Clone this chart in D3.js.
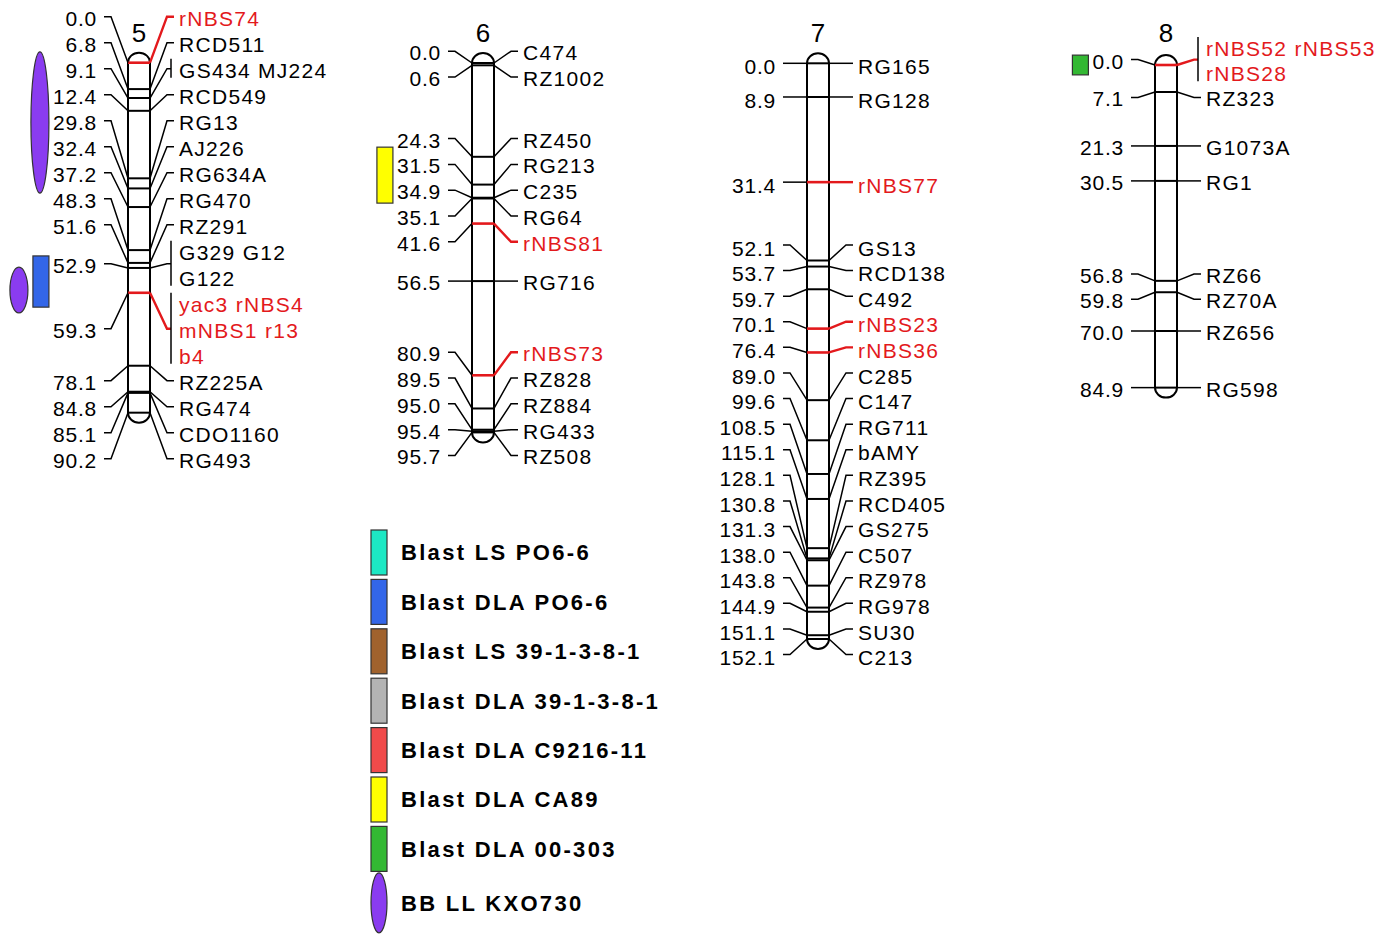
<!DOCTYPE html>
<html>
<head>
<meta charset="utf-8">
<script src="https://cdn.jsdelivr.net/npm/d3@7"></script>
<style>
  body { margin: 0; background: #fff; }
  svg { display: block; }
  text { font-family: "Liberation Sans", Arial, sans-serif; }
</style>
</head>
<body>
<script>
const chromNames = ['5', '6', '7', '8']

const chr5Pos = [0.0, 6.8, 9.1, 12.4, 29.8, 32.4, 37.2, 48.3, 51.6, 52.9, 59.3, 78.1, 84.8, 85.1, 90.2]
const chr5Names = [['rNBS74'], ['RCD511'], ['GS434', 'MJ224'], ['RCD549'], ['RG13'], ['AJ226'], ['RG634A'],
  ['RG470'], ['RZ291'], ['G329', 'G12', 'G122'], ['yac3', 'rNBS4', 'mNBS1', 'r13', 'b4'], ['RZ225A'],
  ['RG474'], ['CDO1160'], ['RG493']]

const chr6Pos = [0.0, 0.6, 24.3, 31.5, 34.9, 35.1, 41.6, 56.5, 80.9, 89.5, 95.0, 95.4, 95.7]
const chr6Names = [['C474'], ['RZ1002'], ['RZ450'], ['RG213'], ['C235'], ['RG64'], ['rNBS81'], ['RG716'],
  ['rNBS73'], ['RZ828'], ['RZ884'], ['RG433'], ['RZ508']]

const chr7Pos = [0.0, 8.9, 31.4, 52.1, 53.7, 59.7, 70.1, 76.4, 89.0, 99.6, 108.5, 115.1, 128.1, 130.8, 131.3,
  138.0, 143.8, 144.9, 151.1, 152.1]
const chr7Names = [['RG165'], ['RG128'], ['rNBS77'], ['GS13'], ['RCD138'], ['C492'], ['rNBS23'], ['rNBS36'],
  ['C285'], ['C147'], ['RG711'], ['bAMY'], ['RZ395'], ['RCD405'], ['GS275'], ['C507'], ['RZ978'], ['RG978'],
  ['SU30'], ['C213']]

const chr8Pos = [0.0, 7.1, 21.3, 30.5, 56.8, 59.8, 70.0, 84.9]
const chr8Names = [['rNBS52', 'rNBS53', 'rNBS28'], ['RZ323'], ['G1073A'], ['RG1'], ['RZ66'], ['RZ70A'],
  ['RZ656'], ['RG598']]

const redMarkers = ['rNBS74', 'yac3', 'rNBS4', 'mNBS1', 'r13', 'b4', 'rNBS81', 'rNBS73', 'rNBS77',
  'rNBS23', 'rNBS36', 'rNBS52', 'rNBS53', 'rNBS28']

// QTL intervals (cM)
const qtlChrom = ['5', '5', '5', '6', '8']
const qtlStart = [-2.8, 49.8, 52.7, 21.8, -2.6]
const qtlEnd = [33.6, 63.0, 64.5, 36.3, 2.6]
const qtlTrait = ['BB LL KXO730', 'Blast DLA PO6-6', 'BB LL KXO730', 'Blast DLA CA89', 'Blast DLA 00-303']
const qtlLane = [0, 0, 1, 0, 0]

const legendLabels = ['Blast LS PO6-6', 'Blast DLA PO6-6', 'Blast LS 39-1-3-8-1', 'Blast DLA 39-1-3-8-1',
  'Blast DLA C9216-11', 'Blast DLA CA89', 'Blast DLA 00-303', 'BB LL KXO730']
const legendColors = ['#1de8c4', '#3366e8', '#a0622d', '#b3b3b3', '#f04a4a', '#ffff00', '#33b833', '#8a3cf0']

// ---- layout ----
const W = 1376, H = 934
const RED = '#e3191c'
const layout = {
  '5': { cx: 139, y0: 62.7, k: 3.88, lh: 26, ty: 1.5 },
  '6': { cx: 483, y0: 63, k: 3.86, lh: 25.8, ty: 1.5 },
  '7': { cx: 818, y0: 63.3, k: 3.785, lh: 25.6, ty: 3 },
  '8': { cx: 1166, y0: 65, k: 3.8, lh: 25.2, ty: 1.5 }
}
const chroms = [
  { name: '5', pos: chr5Pos, names: chr5Names },
  { name: '6', pos: chr6Pos, names: chr6Names },
  { name: '7', pos: chr7Pos, names: chr7Names },
  { name: '8', pos: chr8Pos, names: chr8Names }
]
const redSet = new Set(redMarkers)
const color = d3.scaleOrdinal().domain(legendLabels).range(legendColors)

const svg = d3.select('body').append('svg')
  .attr('width', W)
  .attr('height', H)

function chunk (arr, n) {
  let out = []
  for (let i = 0; i < arr.length; i += n) out.push(arr.slice(i, i + n).join(' '))
  return out
}

// spread labels so they don't overlap; merged blocks are centred on the span of their targets
function spread (items, lh) {
  items.forEach(it => { it.h = it.lines.length * lh })
  let blocks = items.map(it => [it])
  const place = b => {
    let acc = 0
    b.forEach(it => { it.off = acc + it.h / 2; acc += it.h })
    const f = b[0], l = b[b.length - 1]
    const excess = (l.off - f.off) - (l.d - f.d)
    const top = f.d - f.off - excess / 2
    b.forEach(it => { it.ly = top + it.off })
    b.top = top
    b.bottom = top + acc
  }
  blocks.forEach(place)
  let merged = true
  while (merged) {
    merged = false
    for (let i = 0; i < blocks.length - 1; i++) {
      if (blocks[i].bottom > blocks[i + 1].top + 0.01) {
        const nb = blocks[i].concat(blocks[i + 1])
        place(nb)
        blocks.splice(i, 2, nb)
        merged = true
        break
      }
    }
  }
}

chroms.forEach(c => {
  const L = layout[c.name]
  const maxPos = d3.max(c.pos)
  const y = d3.scaleLinear().domain([0, maxPos]).range([L.y0, L.y0 + L.k * maxPos])
  const x0 = L.cx - 11, x1 = L.cx + 11

  const items = c.pos.map((p, i) => ({
    pos: p,
    names: c.names[i],
    d: y(p),
    lines: chunk(c.names[i], 2),
    red: redSet.has(c.names[i][0])
  }))
  spread(items, L.lh)

  const g = svg.append('g')

  // title
  g.append('text')
    .attr('x', L.cx)
    .attr('y', 42)
    .attr('text-anchor', 'middle')
    .attr('font-size', 26)
    .text(c.name)

  // bar
  const yt = y(0), yb = y(maxPos)
  g.append('path')
    .attr('d', `M${x0},${yt} L${x0},${yb} A11 10 0 0 0 ${x1},${yb} L${x1},${yt} A11 10 0 0 0 ${x0},${yt} Z`)
    .attr('fill', '#fff')
    .attr('stroke', '#000')
    .attr('stroke-width', 2)

  // marker lines across the bar
  g.selectAll('line.mk')
    .data(items)
    .join('line')
    .attr('class', 'mk')
    .attr('x1', x0).attr('x2', x1)
    .attr('y1', d => d.d).attr('y2', d => d.d)
    .attr('stroke', d => d.red ? RED : '#000')
    .attr('stroke-width', d => d.red ? 2.6 : 2)

  // left connectors
  g.selectAll('path.lc')
    .data(items)
    .join('path')
    .attr('class', 'lc')
    .attr('d', d => `M${x0 - 24},${d.ly} L${x0 - 17},${d.ly} L${x0},${d.d}`)
    .attr('fill', 'none')
    .attr('stroke', '#000')
    .attr('stroke-width', 1.5)

  // right connectors
  g.selectAll('path.rc')
    .data(items)
    .join('path')
    .attr('class', 'rc')
    .attr('d', d => `M${x1},${d.d} L${x1 + 17},${d.ly} L${x1 + (d.names.length > 1 ? 21 : 24)},${d.ly}`)
    .attr('fill', 'none')
    .attr('stroke', d => d.red ? RED : '#000')
    .attr('stroke-width', d => d.red ? 2.4 : 1.5)

  // position labels
  const posText = g.selectAll('text.pos')
    .data(items)
    .join('text')
    .attr('class', 'pos')
    .attr('x', x0 - 31)
    .attr('y', d => d.ly + L.ty)
    .attr('dy', '0.36em')
    .attr('text-anchor', 'end')
    .attr('font-size', 21)
    .attr('letter-spacing', 0.8)
    .text(d => d.pos.toFixed(1))
  posText.each(function (d) {
    d.textStart = x0 - 31 - this.getComputedTextLength()
  })

  // marker names
  items.forEach(d => {
    const n = d.lines.length
    const first = d.ly - (n - 1) / 2 * L.lh
    d.lines.forEach((t, j) => {
      g.append('text')
        .attr('x', x1 + 29)
        .attr('y', first + j * L.lh + L.ty)
        .attr('dy', '0.36em')
        .attr('font-size', 21)
        .attr('letter-spacing', 1.3)
        .attr('fill', d.red ? RED : '#000')
        .text(t)
    })
    if (d.names.length > 1) {
      g.append('line')
        .attr('x1', x1 + 21).attr('x2', x1 + 21)
        .attr('y1', first - 10)
        .attr('y2', first + (n - 1) * L.lh + 9)
        .attr('stroke', '#000')
        .attr('stroke-width', 1.5)
    }
  })

  // QTL marks on the left
  const laneRight = []
  qtlChrom.forEach((ch, i) => {
    if (ch !== c.name) return
    const top = y(qtlStart[i]), bot = y(qtlEnd[i])
    const over = items.filter(d => d.ly + L.lh / 2 > top && d.ly - L.lh / 2 < bot)
    let right = d3.min(over, d => d.textStart) - 4
    if (qtlLane[i] > 0) right = laneRight[qtlLane[i] - 1] - 5
    const ell = qtlTrait[i].startsWith('BB')
    const w = ell ? 18 : 16
    laneRight[qtlLane[i]] = right - w
    if (ell) {
      g.append('ellipse')
        .attr('cx', right - w / 2)
        .attr('cy', (top + bot) / 2)
        .attr('rx', w / 2)
        .attr('ry', (bot - top) / 2)
        .attr('fill', color(qtlTrait[i]))
        .attr('stroke', '#333')
        .attr('stroke-width', 1.2)
    } else {
      g.append('rect')
        .attr('x', right - w)
        .attr('y', top)
        .attr('width', w)
        .attr('height', bot - top)
        .attr('fill', color(qtlTrait[i]))
        .attr('stroke', '#333')
        .attr('stroke-width', 1.2)
    }
  })
})

// legend
const lg = svg.append('g').attr('transform', 'translate(371,530)')
const step = 49.4
legendLabels.forEach((lab, i) => {
  const ell = lab.startsWith('BB')
  const cy = ell ? i * step + 27 : i * step + 22.5
  if (ell) {
    lg.append('ellipse')
      .attr('cx', 8).attr('cy', cy)
      .attr('rx', 8).attr('ry', 30)
      .attr('fill', color(lab))
      .attr('stroke', '#333')
      .attr('stroke-width', 1.2)
  } else {
    lg.append('rect')
      .attr('x', 0).attr('y', i * step)
      .attr('width', 16).attr('height', 45)
      .attr('fill', color(lab))
      .attr('stroke', '#333')
      .attr('stroke-width', 1.2)
  }
  lg.append('text')
    .attr('x', 30)
    .attr('y', cy)
    .attr('dy', '0.36em')
    .attr('font-size', 22)
    .attr('font-weight', 'bold')
    .attr('letter-spacing', 2.3)
    .text(lab)
})
</script>
</body>
</html>
